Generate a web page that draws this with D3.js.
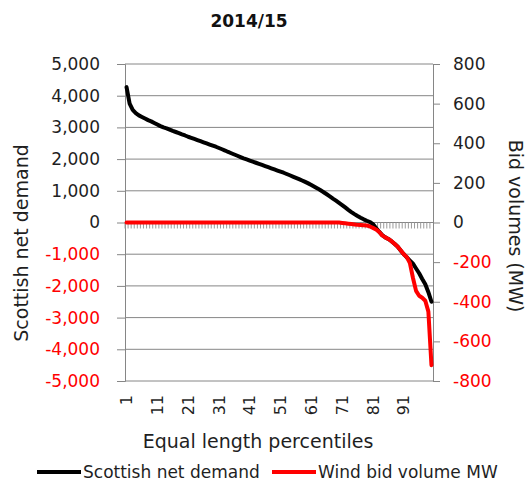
<!DOCTYPE html>
<html>
  <head>
    <meta charset="utf-8">
    <title>2014/15 net demand vs wind bids</title>
    <style>
    body {
        margin: 0px;
        overflow: hidden;
        background: #fff;
    }
    text {
        font-family: "DejaVu Sans", sans-serif;
    }
    </style>
    <script src="https://d3js.org/d3.v7.min.js"></script>
  </head>
  <body>
    <svg width="532" height="488"></svg>
    <script>
        // percentile categories 1..100
        const percentiles = d3.range(1, 101);

        // Scottish net demand (left axis, MW)
        const netDemand = [
            4270, 3750, 3550, 3450, 3380, 3330, 3280, 3230, 3190, 3140,
            3090, 3040, 3000, 2970, 2930, 2890, 2855, 2820, 2780, 2745,
            2705, 2670, 2635, 2600, 2565, 2530, 2495, 2460, 2425, 2390,
            2350, 2310, 2270, 2225, 2185, 2145, 2105, 2065, 2025, 1990,
            1955, 1920, 1885, 1850, 1815, 1780, 1745, 1710, 1675, 1640,
            1605, 1570, 1530, 1490, 1450, 1410, 1370, 1325, 1280, 1235,
            1185, 1130, 1075, 1015, 955, 890, 825, 755, 690, 620,
            550, 475, 400, 330, 265, 205, 150, 100, 55, 15,
            -50, -170, -290, -400, -470, -520, -590, -670, -760, -880,
            -1000, -1100, -1200, -1300, -1450, -1600, -1780, -1950, -2200, -2500
        ];

        // Wind bid volume (right axis, MW)
        const windBid = [
            0, 0, 0, 0, 0, 0, 0, 0, 0, 0,
            0, 0, 0, 0, 0, 0, 0, 0, 0, 0,
            0, 0, 0, 0, 0, 0, 0, 0, 0, 0,
            0, 0, 0, 0, 0, 0, 0, 0, 0, 0,
            0, 0, 0, 0, 0, 0, 0, 0, 0, 0,
            0, 0, 0, 0, 0, 0, 0, 0, 0, 0,
            0, 0, 0, 0, 0, 0, 0, 0, 0, 0,
            -2, -4, -6, -8, -10, -12, -13, -14, -15, -20,
            -27, -35, -47, -65, -75, -83, -94, -107, -122, -140,
            -160, -175, -205, -280, -345, -370, -380, -395, -450, -720
        ];

        const leftTicks = d3.range(-5000, 5001, 1000);
        const rightTicks = d3.range(-800, 801, 200);
        const xLabels = [1, 11, 21, 31, 41, 51, 61, 71, 81, 91];

        const svg = d3.select('svg');
        const dark = '#1f1f1f';
        const red = '#ff0000';
        const grey = '#868686';

        //plot area
        const plot = { left: 125, right: 433, top: 64, bottom: 381 };

        const xScale = d3.scaleBand()
            .domain(percentiles)
            .range([plot.left, plot.right]);
        const xMid = d => xScale(d) + xScale.bandwidth() / 2;

        const yLeft = d3.scaleLinear().domain([-5000, 5000]).range([plot.bottom, plot.top]);
        const yRight = d3.scaleLinear().domain([-800, 800]).range([plot.bottom, plot.top]);

        //plain hyphen for negatives, like the original
        const fmt = d3.formatLocale({
            decimal: '.', thousands: ',', grouping: [3], currency: ['', ''], minus: '-'
        }).format(',');

        //gridlines
        svg.append('g').selectAll('line').data(leftTicks)
            .enter().append('line')
                .attr('x1', plot.left).attr('x2', plot.right)
                .attr('y1', d => yLeft(d)).attr('y2', d => yLeft(d))
                .attr('stroke', grey).attr('stroke-width', 1);

        //left axis
        const leftAxis = svg.append('g')
            .attr('transform', `translate(${plot.left},0)`)
            .call(d3.axisLeft(yLeft).tickValues(leftTicks).tickSize(8).tickPadding(17).tickFormat(fmt));
        leftAxis.select('.domain').attr('stroke', grey);
        leftAxis.selectAll('.tick line').attr('stroke', grey);
        leftAxis.selectAll('.tick text')
            .attr('font-size', '17px')
            .attr('fill', d => d < 0 ? red : dark);

        //right axis
        const rightAxis = svg.append('g')
            .attr('transform', `translate(${plot.right},0)`)
            .call(d3.axisRight(yRight).tickValues(rightTicks).tickSize(7).tickPadding(13).tickFormat(fmt));
        rightAxis.select('.domain').attr('stroke', grey);
        rightAxis.selectAll('.tick line').attr('stroke', grey);
        rightAxis.selectAll('.tick text')
            .attr('font-size', '17px')
            .attr('fill', d => d < 0 ? red : dark);

        //category axis at zero with a tick between every category
        const y0 = yLeft(0);
        svg.append('line')
            .attr('x1', plot.left).attr('x2', plot.right)
            .attr('y1', y0).attr('y2', y0)
            .attr('stroke', grey);
        svg.append('g').selectAll('line').data(percentiles)
            .enter().append('line')
                .attr('x1', d => xScale(d)).attr('x2', d => xScale(d))
                .attr('y1', y0).attr('y2', y0 + 6)
                .attr('stroke', '#9a9a9a').attr('stroke-width', 1);

        //category labels at the bottom, rotated
        svg.append('g').selectAll('text').data(xLabels)
            .enter().append('text')
                .attr('transform', d => `translate(${xMid(d)},395) rotate(-90)`)
                .attr('text-anchor', 'end')
                .attr('dy', '0.35em')
                .attr('font-size', '16px')
                .attr('fill', dark)
                .text(d => d);

        //lines
        const demandLine = d3.line()
            .x((d, i) => xMid(percentiles[i]))
            .y(d => yLeft(d));
        const bidLine = d3.line()
            .x((d, i) => xMid(percentiles[i]))
            .y(d => yRight(d));

        svg.append('path').datum(netDemand)
            .attr('d', demandLine)
            .attr('fill', 'none').attr('stroke', '#000')
            .attr('stroke-width', 4).attr('stroke-linejoin', 'round').attr('stroke-linecap', 'round');

        svg.append('path').datum(windBid)
            .attr('d', bidLine)
            .attr('fill', 'none').attr('stroke', red)
            .attr('stroke-width', 4).attr('stroke-linejoin', 'round').attr('stroke-linecap', 'round');

        //titles
        svg.append('text')
            .text('2014/15')
            .attr('x', 249).attr('y', 27)
            .attr('text-anchor', 'middle')
            .attr('font-size', '17px').attr('font-weight', 'bold')
            .attr('fill', '#111');

        svg.append('text')
            .text('Equal length percentiles')
            .attr('x', 258).attr('y', 448)
            .attr('text-anchor', 'middle')
            .attr('font-size', '19px')
            .attr('fill', dark);

        svg.append('text')
            .text('Scottish net demand')
            .attr('transform', 'translate(21,243) rotate(-90)')
            .attr('text-anchor', 'middle').attr('dy', '0.35em')
            .attr('font-size', '19px')
            .attr('fill', dark);

        svg.append('text')
            .text('Bid volumes (MW)')
            .attr('transform', 'translate(516,226) rotate(90)')
            .attr('text-anchor', 'middle').attr('dy', '0.35em')
            .attr('font-size', '19px')
            .attr('fill', dark);

        //legend
        const legend = [
            { name: 'Scottish net demand', color: '#000', x: 37 },
            { name: 'Wind bid volume MW', color: red, x: 272 }
        ];
        const lg = svg.append('g').selectAll('g').data(legend)
            .enter().append('g')
                .attr('transform', d => `translate(${d.x},472)`);
        lg.append('line')
            .attr('x1', 0).attr('x2', 44)
            .attr('stroke', d => d.color).attr('stroke-width', 4);
        lg.append('text')
            .text(d => d.name)
            .attr('x', 46).attr('dy', '0.35em')
            .attr('font-size', '17px')
            .attr('fill', dark);
    </script>
  </body>
</html>
